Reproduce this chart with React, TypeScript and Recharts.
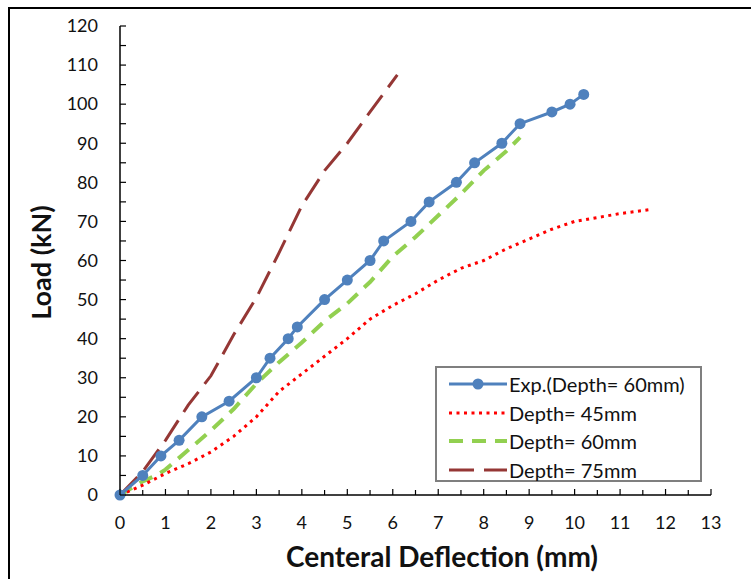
import { LineChart, Line, XAxis, YAxis, Legend } from "recharts";

// experimental curve (depth = 60mm)
const expDeflection = [0, 0.5, 0.9, 1.3, 1.8, 2.4, 3, 3.3, 3.7, 3.9, 4.5, 5, 5.5, 5.8, 6.4, 6.8, 7.4, 7.8, 8.4, 8.8, 9.5, 9.9, 10.2];
const expLoad = [0, 5, 10, 14, 20, 24, 30, 35, 40, 43, 50, 55, 60, 65, 70, 75, 80, 85, 90, 95, 98, 100, 102.5];

// numerical, depth = 45mm
const d45Deflection = [0, 0.5, 1, 1.5, 2, 2.5, 3, 3.5, 4, 4.5, 5, 5.5, 6, 6.5, 7, 7.5, 8, 8.5, 9, 9.5, 10, 10.5, 11, 11.65];
const d45Load = [0, 2.5, 5.5, 8, 11, 15, 20, 26.5, 31, 35.5, 40, 45, 48.5, 51.5, 55, 58, 60, 63, 65.5, 68, 70, 71, 72, 73];

// numerical, depth = 60mm
const d60Deflection = [0, 0.5, 0.8, 1, 1.5, 2, 2.5, 3, 3.5, 4, 4.5, 5, 5.5, 6, 6.5, 7, 7.5, 8, 8.5, 8.8];
const d60Load = [0, 3.5, 5, 6.5, 11.5, 16.5, 22, 28.5, 34, 39, 44.5, 49, 54.5, 61, 66, 71.5, 77, 83, 88, 91.5];

// numerical, depth = 75mm
const d75Deflection = [0, 0.5, 1, 1.5, 2, 2.5, 3, 3.5, 4, 4.5, 5, 5.5, 6.1];
const d75Load = [0, 6, 14, 23, 30.5, 41, 50.5, 62, 74, 83, 90, 98, 107.5];

const xTicks = [0, 0.5, 1, 1.5, 2, 2.5, 3, 3.5, 4, 4.5, 5, 5.5, 6, 6.5, 7, 7.5, 8, 8.5, 9, 9.5, 10, 10.5, 11, 11.5, 12, 12.5, 13];
const yTicks = [0, 5, 10, 15, 20, 25, 30, 35, 40, 45, 50, 55, 60, 65, 70, 75, 80, 85, 90, 95, 100, 105, 110, 115, 120];

const toPoints = (xs: number[], ys: number[]) => xs.map((x, i) => ({ x, y: ys[i] }));

const series = [
  { name: "Exp.(Depth= 60mm)", data: toPoints(expDeflection, expLoad), color: "#4F81BD", width: 3, dash: undefined as string | undefined, dot: true },
  { name: "Depth= 45mm", data: toPoints(d45Deflection, d45Load), color: "#FF0000", width: 3, dash: "3 4.5", dot: false },
  { name: "Depth= 60mm", data: toPoints(d60Deflection, d60Load), color: "#92D050", width: 4, dash: "14 9", dot: false },
  { name: "Depth= 75mm", data: toPoints(d75Deflection, d75Load), color: "#953735", width: 3, dash: "25 10", dot: false },
];

const FONT = "Lato, 'Noto Sans', sans-serif";

function XTick({ x, y, payload }: any) {
  const v = payload.value;
  const major = Number.isInteger(v);
  return (
    <g>
      <line x1={x} x2={x} y1={y} y2={y - (major ? 6 : 5)} stroke="#000" strokeWidth={1.2} />
      {major && (
        <text x={x} y={y + 34} textAnchor="middle" fontSize={18} fontFamily={FONT} fill="#111">
          {v}
        </text>
      )}
    </g>
  );
}

function YTick({ x, y, payload }: any) {
  const v = payload.value;
  const major = v % 10 === 0;
  return (
    <g>
      <line x1={x} x2={x + 6} y1={y} y2={y} stroke="#000" strokeWidth={1.2} />
      {major && (
        <text x={x - 22} y={y} dy="0.35em" textAnchor="end" fontSize={18} fontFamily={FONT} fill="#111">
          {v}
        </text>
      )}
    </g>
  );
}

function LegendBox() {
  return (
    <div
      style={{
        boxSizing: "border-box",
        width: 267,
        height: 116,
        border: "2px solid #7f7f7f",
        background: "#fff",
        paddingTop: 2,
        fontFamily: FONT,
        fontSize: 20,
        color: "#111",
      }}
    >
      {series.map((s) => (
        <div key={s.name} style={{ display: "flex", alignItems: "center", height: 28.5 }}>
          <svg width={70} height={20} style={{ marginLeft: 10 }}>
            <line x1={2} x2={60} y1={10} y2={10} stroke={s.color} strokeWidth={s.width} strokeDasharray={s.dash} />
            {s.dot && <circle cx={31} cy={10} r={5.5} fill={s.color} />}
          </svg>
          <span style={{ marginLeft: -8, whiteSpace: "nowrap" }}>{s.name}</span>
        </div>
      ))}
    </div>
  );
}

export default function App() {
  return (
    <div style={{ position: "absolute", left: 0, top: 0, width: 751, height: 579, background: "#fff" }}>
      <div
        style={{
          position: "absolute",
          left: 8,
          top: 7,
          width: 743,
          height: 572,
          boxSizing: "border-box",
          borderLeft: "2px solid #000",
          borderTop: "2px solid #000",
        }}
      />
      <LineChart
        width={751}
        height={579}
        margin={{ top: 26, right: 40, bottom: 0, left: 0 }}
        style={{ position: "absolute", left: 0, top: 0 }}
      >
        <XAxis
          xAxisId="bottom"
          type="number"
          dataKey="x"
          domain={[0, 13]}
          ticks={xTicks}
          interval={0}
          height={84}
          tickSize={0}
          tickMargin={0}
          tick={<XTick />}
          axisLine={{ stroke: "#000", strokeWidth: 1.5 }}
          label={{
            content: () => (
              <text x={442} y={567} textAnchor="middle" fontSize={28} fontWeight={700} fontFamily={FONT} fill="#111">
                Centeral Deflection (mm)
              </text>
            ),
          }}
        />
        <XAxis xAxisId="top" orientation="top" type="number" domain={[0, 13]} height={0} tick={false} tickLine={false} axisLine={{ stroke: "#333", strokeWidth: 1.5 }} />
        <YAxis
          yAxisId="left"
          type="number"
          domain={[0, 120]}
          ticks={yTicks}
          interval={0}
          width={120}
          tickSize={0}
          tickMargin={0}
          tick={<YTick />}
          axisLine={{ stroke: "#000", strokeWidth: 1.5 }}
          label={{
            content: (props: any) => {
              const vb = props.viewBox;
              const cy = vb.y + vb.height / 2 + 2;
              return (
                <text transform={`translate(51,${cy}) rotate(-90)`} textAnchor="middle" fontSize={27} fontWeight={700} fontFamily={FONT} fill="#111">
                  Load (kN)
                </text>
              );
            },
          }}
        />
        <YAxis yAxisId="right" orientation="right" type="number" domain={[0, 120]} width={0} tick={false} tickLine={false} axisLine={{ stroke: "#808080", strokeWidth: 2 }} />
        <Legend
          verticalAlign="middle"
          align="center"
          layout="horizontal"
          content={() => <LegendBox />}
          wrapperStyle={{ position: "absolute", left: 435, top: 366, width: 267, height: 116 }}
        />
        {series
          .slice()
          .reverse()
          .map((s) => (
            <Line
              key={s.name}
              xAxisId="bottom"
              yAxisId="left"
              data={s.data}
              dataKey="y"
              name={s.name}
              type="linear"
              stroke={s.color}
              strokeWidth={s.width}
              strokeDasharray={s.dash}
              dot={s.dot ? { r: 5.5, fill: s.color, stroke: s.color, strokeWidth: 0 } : false}
              activeDot={false}
              isAnimationActive={false}
            />
          ))}
      </LineChart>
    </div>
  );
}
